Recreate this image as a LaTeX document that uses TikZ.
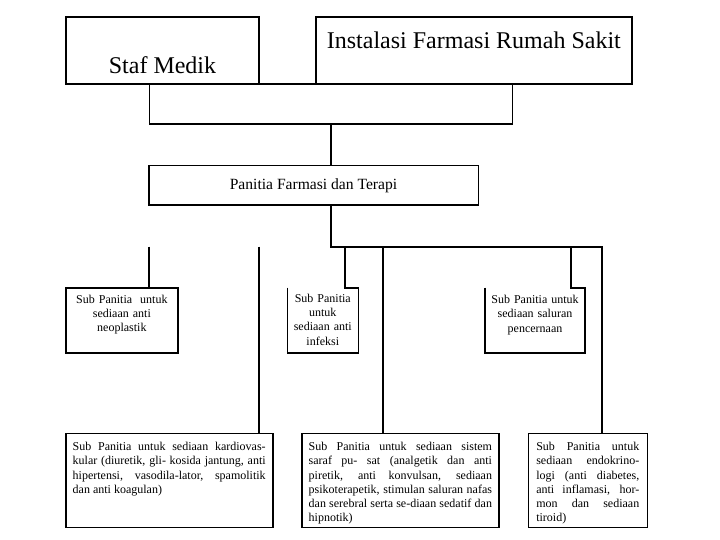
\documentclass[tikz,border=0pt]{standalone}
\usepackage{fontspec}
\setmainfont{Liberation Serif}
\tolerance=10000 \hyphenpenalty=10000 \exhyphenpenalty=10000
\begin{document}
\begin{tikzpicture}[x=1pt, y=-1pt, line width=1.6pt, line join=miter,
	box/.style={draw, anchor=north west, inner ysep=0pt, outer sep=0pt},
	subbox/.style={box, inner xsep=3pt, align=center, font=\fontsize{12}{14.2}\selectfont},
	longbox/.style={box, inner xsep=7pt, align=justify, font=\fontsize{12}{14.2}\selectfont, text height=17.4pt, text depth=76.6pt}]
	\useasboundingbox (0,0) rectangle (720,540);
	% kotak atas
	\node[box, minimum width=193pt, text height=56pt, text depth=10.7pt, font=\fontsize{24}{28}\selectfont] (staf) at (66,17.3) {Staf Medik};
	\node[box, minimum width=316.3pt, text height=31.7pt, text depth=35pt, font=\fontsize{24}{28}\selectfont] (ifrs) at (315.7,17.3) {Instalasi Farmasi Rumah Sakit};
	\node[box, minimum width=329.6pt, minimum height=39.3pt, font=\fontsize{15.6}{18}\selectfont] (pft) at (148.7,165.7) {Panitia Farmasi dan Terapi};
	% sub panitia
	\node[subbox, text width=105.7pt, text height=15.6pt, text depth=49.4pt] (neo) at (66,287.7) {Sub Panitia~ untuk\\ sediaan anti\\ neoplastik};
	\node[subbox, draw=none, text width=65pt, text height=14.8pt, text depth=50.2pt] (inf) at (287.3,287.7) {Sub Panitia\\ untuk\\ sediaan anti\\ infeksi};
	\node[subbox, draw=none, text width=94pt, text height=16pt, text depth=49pt] (cerna) at (485,287.7) {Sub Panitia untuk\\ sediaan saluran\\ pencernaan};
	\node[longbox, text width=193pt] (kardio) at (65.7,433.3) {Sub Panitia untuk sediaan kardiovas-\linebreak kular (diuretik, gli- kosida jantung, anti\linebreak hipertensi, vasodila-lator, spamolitik\linebreak dan anti koagulan)};
	\node[longbox, text width=183.3pt] (saraf) at (301.7,433.3) {Sub Panitia untuk sediaan sistem\linebreak saraf pu- sat (analgetik dan anti\linebreak piretik, anti konvulsan, sediaan\linebreak psikoterapetik, stimulan saluran nafas\linebreak dan serebral serta se-diaan sedatif dan\linebreak hipnotik)};
	\node[longbox, inner xsep=8pt, text width=103pt] (endo) at (528.3,433.3) {Sub Panitia untuk\linebreak sediaan endokrino-\linebreak logi (anti diabetes,\linebreak anti inflamasi, hor-\linebreak mon dan sediaan\linebreak tiroid)};
	% garis penghubung
	\coordinate (t1) at (149.3,124); \coordinate (t2) at (512.3,124); \coordinate (t3) at (331,124);
	\coordinate (b0) at (331,246.7); \coordinate (b1) at (345,246.7); \coordinate (b2) at (383,246.7);
	\coordinate (b3) at (570.7,246.7); \coordinate (b4) at (601.7,246.7);
	\coordinate (l1) at (149,246.7); \coordinate (l2) at (259,246.7);
	\draw (staf.south east) -- (ifrs.south west);
	\draw (staf.south -| t1) -- (t1) -- (t2) -- (ifrs.south -| t2);
	\draw (t3) -- (pft.north -| t3);
	\draw (pft.south -| b0) -- (b0) -- (b4) -- (endo.north -| b4);
	\draw (b2) -- (saraf.north -| b2);
	\draw (inf.north west) -- (inf.south west) -- (inf.south east) -- (inf.north east) -| (b1);
	\draw (cerna.north west) -- (cerna.south west) -- (cerna.south east) -- (cerna.north east) -| (b3);
	\draw (l1) -- (neo.north -| l1);
	\draw (l2) -- (kardio.north -| l2);
\end{tikzpicture}
\end{document}
